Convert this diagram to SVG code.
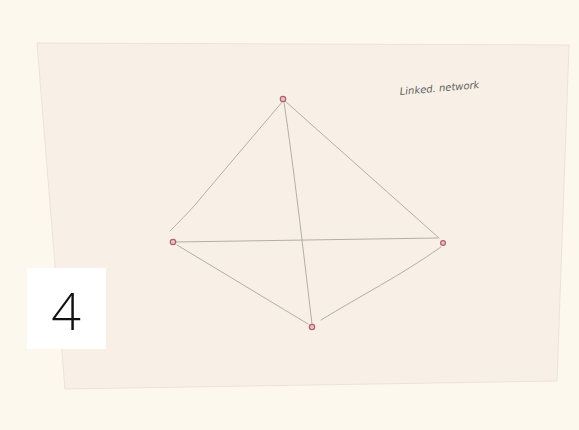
<svg xmlns="http://www.w3.org/2000/svg" width="579" height="430" viewBox="0 0 579 430">
<style>
.edge{fill:none;stroke:#a9a7a1;stroke-width:0.9;stroke-linecap:round}
.node{fill:#e6c3c3;stroke:#b2606a;stroke-width:1.2}
.label{font-family:"DejaVu Sans",sans-serif;font-style:italic;font-size:10px;fill:#616161}
.num{font-family:"Open Sans","Noto Sans",sans-serif;font-weight:300;font-size:52px;fill:#111}
</style>
<rect x="0" y="0" width="579" height="430" fill="#fcf8ee"/>
<polygon id="paper" points="37,43 569,45 557,381 65,389" fill="#f8f0e6" stroke="#ebe3d6" stroke-width="1"/>
<g id="connectors">
<path class="edge" d="M283,101 C250,140 220,175 195,205 C183,218 175,226 170,231"/>
<path class="edge" d="M285,101 L439,238"/>
<path class="edge" d="M284,102 C294,170 302,240 312,324"/>
<path class="edge" d="M176,242 L438,238"/>
<path class="edge" d="M177,245 L308,324"/>
<path class="edge" d="M441,247 C400,276 360,296 321,320"/>
</g>
<g id="node-top"><circle class="node" cx="283" cy="99" r="2.7"/></g>
<g id="node-left"><circle class="node" cx="173" cy="242" r="2.7"/></g>
<g id="node-right"><circle class="node" cx="443" cy="243" r="2.4"/></g>
<g id="node-bottom"><circle class="node" cx="312" cy="327" r="2.7"/></g>
<text class="label" x="400" y="95" transform="rotate(-5 400 95)">Linked. network</text>
<g id="badge">
<rect x="27" y="268" width="79" height="81" fill="#ffffff"/>
<text class="num" x="66" y="330" text-anchor="middle">4</text>
</g>
</svg>
